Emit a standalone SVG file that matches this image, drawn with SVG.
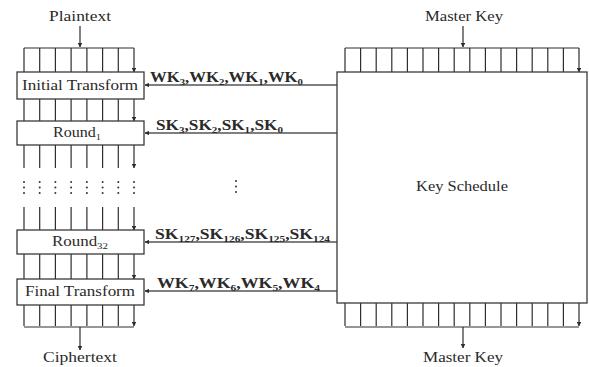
<svg xmlns="http://www.w3.org/2000/svg" width="589" height="367" viewBox="0 0 589 367">
<defs>
<style>
.t{font-family:"Liberation Serif","DejaVu Serif",serif;font-size:14px;fill:#2a2a2a}
.lb{font-family:"Liberation Serif","DejaVu Serif",serif;font-size:14px;fill:#2a2a2a;font-weight:bold}
.s{font-size:9px}
.box{fill:#fff;stroke:#3a3a3a;stroke-width:1.3}
.w{stroke:#2e2e2e;stroke-width:1.2;fill:none}
.a{stroke:#2e2e2e;stroke-width:1.2;fill:none;marker-end:url(#ah)}
.c{stroke:#555;stroke-width:1.5;fill:none;marker-end:url(#ah)}
.d{fill:#333}
</style>
<marker id="ah" viewBox="0 0 6 6" refX="5.5" refY="3" markerWidth="4.5" markerHeight="4.5" markerUnits="userSpaceOnUse" orient="auto">
<path d="M0,0 L6,3 L0,6 z" fill="#2e2e2e"/>
</marker>
</defs>
<rect width="589" height="367" fill="#fff"/>

<g id="connectors">
<path class="a" d="M80,26 V47"/>
<path class="w" d="M24,48 H134"/>
<path class="a" d="M24,48 V72 M39.7,48 V72 M55.4,48 V72 M71.1,48 V72 M86.9,48 V72 M102.6,48 V72 M118.3,48 V72 M134,48 V72"/>
<path class="a" d="M24,99 V121 M39.7,99 V121 M55.4,99 V121 M71.1,99 V121 M86.9,99 V121 M102.6,99 V121 M118.3,99 V121 M134,99 V121"/>
<path class="a" d="M24,145 V168 M39.7,145 V168 M55.4,145 V168 M71.1,145 V168 M86.9,145 V168 M102.6,145 V168 M118.3,145 V168 M134,145 V168"/>
<path class="a" d="M24,207 V230 M39.7,207 V230 M55.4,207 V230 M71.1,207 V230 M86.9,207 V230 M102.6,207 V230 M118.3,207 V230 M134,207 V230"/>
<path class="a" d="M24,254 V279 M39.7,254 V279 M55.4,254 V279 M71.1,254 V279 M86.9,254 V279 M102.6,254 V279 M118.3,254 V279 M134,254 V279"/>
<path class="a" d="M24,305 V326 M39.7,305 V326 M55.4,305 V326 M71.1,305 V326 M86.9,305 V326 M102.6,305 V326 M118.3,305 V326 M134,305 V326"/>
<path class="w" d="M24,327 H134"/>
<path class="a" d="M80,327 V350"/>
<path class="a" d="M463,26 V47"/>
<path class="w" d="M345,48 H579"/>
<path class="a" d="M345,48 V72 M360.6,48 V72 M376.2,48 V72 M391.8,48 V72 M407.4,48 V72 M423,48 V72 M438.6,48 V72 M454.2,48 V72 M469.8,48 V72 M485.4,48 V72 M501,48 V72 M516.6,48 V72 M532.2,48 V72 M547.8,48 V72 M563.4,48 V72 M579,48 V72"/>
<path class="a" d="M345,303 V326 M360.6,303 V326 M376.2,303 V326 M391.8,303 V326 M407.4,303 V326 M423,303 V326 M438.6,303 V326 M454.2,303 V326 M469.8,303 V326 M485.4,303 V326 M501,303 V326 M516.6,303 V326 M532.2,303 V326 M547.8,303 V326 M563.4,303 V326 M579,303 V326"/>
<path class="w" d="M345,327 H579"/>
<path class="a" d="M463,327 V348"/>
<path class="c" d="M337,85 H145"/>
<path class="c" d="M337,133 H145"/>
<path class="c" d="M337,242 H145"/>
<path class="c" d="M337,291 H145"/>
</g>

<g id="dots">
<g class="d">
<circle cx="24" cy="182" r="1"/><circle cx="24" cy="187.5" r="1"/><circle cx="24" cy="193" r="1"/>
<circle cx="39.7" cy="182" r="1"/><circle cx="39.7" cy="187.5" r="1"/><circle cx="39.7" cy="193" r="1"/>
<circle cx="55.4" cy="182" r="1"/><circle cx="55.4" cy="187.5" r="1"/><circle cx="55.4" cy="193" r="1"/>
<circle cx="71.1" cy="182" r="1"/><circle cx="71.1" cy="187.5" r="1"/><circle cx="71.1" cy="193" r="1"/>
<circle cx="86.9" cy="182" r="1"/><circle cx="86.9" cy="187.5" r="1"/><circle cx="86.9" cy="193" r="1"/>
<circle cx="102.6" cy="182" r="1"/><circle cx="102.6" cy="187.5" r="1"/><circle cx="102.6" cy="193" r="1"/>
<circle cx="118.3" cy="182" r="1"/><circle cx="118.3" cy="187.5" r="1"/><circle cx="118.3" cy="193" r="1"/>
<circle cx="134" cy="182" r="1"/><circle cx="134" cy="187.5" r="1"/><circle cx="134" cy="193" r="1"/>
<circle cx="236" cy="181" r="1"/><circle cx="236" cy="186.5" r="1"/><circle cx="236" cy="192" r="1"/>
</g>
</g>

<g id="plaintext"><text class="t" x="80" y="21" text-anchor="middle" textLength="62" lengthAdjust="spacingAndGlyphs">Plaintext</text></g>
<g id="initial-transform">
<rect class="box" x="17" y="72" width="127" height="27"/>
<text class="t" x="80" y="90" text-anchor="middle" textLength="116" lengthAdjust="spacingAndGlyphs">Initial Transform</text>
</g>
<g id="round1">
<rect class="box" x="17" y="121" width="127" height="24"/>
<text class="t" x="77" y="137" text-anchor="middle" textLength="48" lengthAdjust="spacingAndGlyphs">Round<tspan class="s" dy="3">1</tspan></text>
</g>
<g id="round32">
<rect class="box" x="17" y="230" width="127" height="24"/>
<text class="t" x="80" y="246" text-anchor="middle" textLength="56" lengthAdjust="spacingAndGlyphs">Round<tspan class="s" dy="3">32</tspan></text>
</g>
<g id="final-transform">
<rect class="box" x="17" y="279" width="127" height="26"/>
<text class="t" x="80" y="296" text-anchor="middle" textLength="110" lengthAdjust="spacingAndGlyphs">Final Transform</text>
</g>
<g id="ciphertext"><text class="t" x="80" y="362" text-anchor="middle" textLength="74" lengthAdjust="spacingAndGlyphs">Ciphertext</text></g>

<g id="master-key-in"><text class="t" x="464" y="21" text-anchor="middle" textLength="78" lengthAdjust="spacingAndGlyphs">Master Key</text></g>
<g id="key-schedule">
<rect class="box" x="337" y="72" width="250" height="231"/>
<text class="t" x="462" y="191" text-anchor="middle" textLength="92" lengthAdjust="spacingAndGlyphs">Key Schedule</text>
</g>
<g id="master-key-out"><text class="t" x="463" y="362" text-anchor="middle" textLength="80" lengthAdjust="spacingAndGlyphs">Master Key</text></g>

<g id="labels">
<text class="lb" x="150" y="82" textLength="153" lengthAdjust="spacingAndGlyphs">WK<tspan class="s" dy="3">3</tspan><tspan dy="-3">,WK</tspan><tspan class="s" dy="3">2</tspan><tspan dy="-3">,WK</tspan><tspan class="s" dy="3">1</tspan><tspan dy="-3">,WK</tspan><tspan class="s" dy="3">0</tspan></text>
<text class="lb" x="156" y="130" textLength="127" lengthAdjust="spacingAndGlyphs">SK<tspan class="s" dy="3">3</tspan><tspan dy="-3">,SK</tspan><tspan class="s" dy="3">2</tspan><tspan dy="-3">,SK</tspan><tspan class="s" dy="3">1</tspan><tspan dy="-3">,SK</tspan><tspan class="s" dy="3">0</tspan></text>
<text class="lb" x="155" y="239" textLength="175" lengthAdjust="spacingAndGlyphs">SK<tspan class="s" dy="3">127</tspan><tspan dy="-3">,SK</tspan><tspan class="s" dy="3">126</tspan><tspan dy="-3">,SK</tspan><tspan class="s" dy="3">125</tspan><tspan dy="-3">,SK</tspan><tspan class="s" dy="3">124</tspan></text>
<text class="lb" x="157" y="288" textLength="163" lengthAdjust="spacingAndGlyphs">WK<tspan class="s" dy="3">7</tspan><tspan dy="-3">,WK</tspan><tspan class="s" dy="3">6</tspan><tspan dy="-3">,WK</tspan><tspan class="s" dy="3">5</tspan><tspan dy="-3">,WK</tspan><tspan class="s" dy="3">4</tspan></text>
</g>
</svg>
